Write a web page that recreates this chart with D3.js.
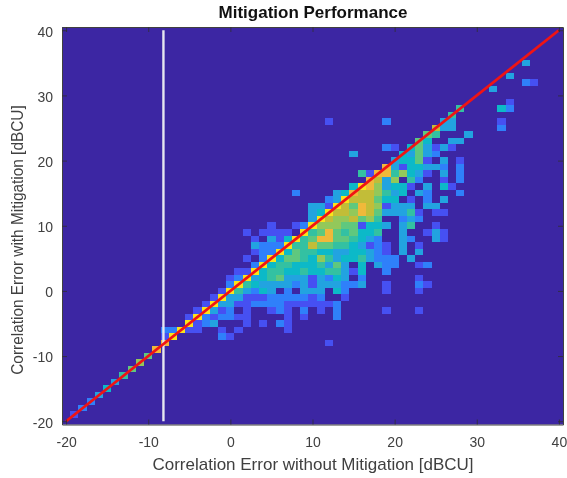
<!DOCTYPE html>
<html>
<head>
<meta charset="utf-8">
<script src="https://cdn.jsdelivr.net/npm/d3@7"></script>
<style>
  html, body { margin: 0; padding: 0; background: #fff; }
  text { font-family: "Liberation Sans", Arial, sans-serif; }
  svg { filter: blur(0.35px); }
</style>
</head>
<body>
<div id="chart"></div>
<script>
// histogram rows: row y value, first x value, then levels going right
const rowY = [35, 33, 32, 31, 29, 28, 27, 26, 25, 24, 23, 22, 21, 20, 19, 18, 17, 16, 15, 14, 13, 12, 11, 10,
  9, 8, 7, 6, 5, 4, 3, 2, 1, 0, -1, -2, -3, -4, -5, -6, -7, -8, -9, -10, -11, -12, -13, -14, -15, -16, -17, -18, -19];
const rowStart = [36, 34, 36, 32, 34, 28, 27, 12, 25, 24, 23, 19, 15, 20, 19, 16, 17, 15, 8, 12, 10, 10, 10, 5,
  2, 3, 3, 3, 2, 3, 1, 0, 0, -1, -2, -3, -4, -5, -5, -8, -8, -8, -9, -10, -11, -12, -13, -14, -15, -16, -17, -18, -19];
const rowLevels = [
  [3],
  [3],
  [2, 1],
  [3],
  [1],
  [5, 0, 0, 0, 0, 4, 2],
  [5],
  [1, 0, 0, 0, 0, 0, 0, 2, 0, 0, 0, 0, 0, 0, 3, 3, 0, 0, 0, 0, 0, 1],
  [8, 3, 3, 0, 0, 0, 0, 0, 2],
  [6, 5, 0, 0, 0, 3],
  [6, 4, 0, 0, 3, 3],
  [2, 1, 0, 4, 6, 3, 1, 3, 1],
  [3, 0, 0, 0, 0, 0, 4, 3, 6, 3, 2],
  [3, 4, 4, 6, 1, 0, 3, 0, 1],
  [9, 3, 1, 4, 4, 3, 3, 2, 0, 2],
  [5, 1, 9, 9, 5, 7, 4, 3, 1, 0, 3, 0, 2],
  [9, 8, 3, 7, 0, 5, 2, 0, 0, 1, 0, 2],
  [4, 10, 9, 7, 3, 4, 4, 1, 0, 3, 0, 4, 1],
  [2, 0, 0, 0, 0, 3, 4, 9, 8, 8, 7, 5, 3, 4, 0, 3, 2, 0, 0, 0, 2],
  [2, 3, 10, 8, 8, 8, 6, 4, 4, 0, 1, 0, 2, 0, 3],
  [3, 3, 1, 10, 8, 6, 9, 8, 7, 1, 3, 3, 3, 0, 3, 3],
  [3, 4, 10, 8, 8, 7, 9, 8, 6, 3, 3, 3, 5, 1, 0, 1, 1],
  [3, 10, 8, 7, 7, 8, 6, 7, 5, 0, 0, 2, 3, 2],
  [1, 0, 0, 1, 2, 10, 7, 7, 7, 6, 6, 1, 4, 4, 3, 0, 3, 5, 0, 0, 1],
  [1, 0, 1, 1, 1, 1, 0, 10, 5, 6, 9, 6, 5, 6, 4, 4, 5, 0, 0, 3, 0, 0, 1, 3, 1],
  [1, 0, 3, 1, 4, 10, 5, 6, 9, 9, 6, 6, 5, 4, 3, 2, 0, 0, 3, 2, 0, 0, 3, 1],
  [3, 2, 2, 2, 10, 5, 5, 8, 6, 6, 5, 5, 4, 3, 1, 2, 1, 0, 3, 0, 1],
  [1, 2, 2, 10, 4, 6, 5, 5, 4, 4, 3, 3, 4, 4, 3, 2, 1, 0, 3, 0, 3],
  [1, 0, 2, 10, 4, 6, 6, 5, 4, 7, 5, 3, 4, 4, 5, 3, 2, 2, 2, 0, 3],
  [2, 10, 4, 5, 5, 4, 4, 4, 5, 3, 6, 3, 0, 4, 0, 3, 2, 2, 0, 0, 1, 2],
  [1, 1, 10, 4, 5, 5, 4, 4, 5, 4, 4, 5, 5, 3, 1, 4, 0, 0, 2],
  [1, 2, 10, 3, 4, 5, 6, 3, 3, 3, 1, 3, 2, 4, 3, 0, 2, 0, 0, 0, 0, 0, 0, 1],
  [2, 10, 5, 4, 3, 3, 3, 3, 2, 3, 1, 3, 3, 3, 2, 2, 3, 0, 0, 1, 0, 0, 0, 2, 1],
  [1, 10, 5, 3, 2, 4, 3, 0, 2, 0, 3, 3, 3, 0, 4, 2, 0, 0, 0, 0, 1, 0, 0, 0, 1],
  [1, 10, 3, 3, 1, 1, 1, 2, 2, 2, 2, 2, 1, 2, 0, 0, 1],
  [1, 10, 3, 3, 1, 1, 2, 2, 2, 2, 1, 1, 1, 1, 1, 1, 2],
  [1, 10, 3, 1, 2, 0, 1, 0, 0, 1, 2, 1, 0, 2, 0, 1, 0, 2, 0, 0, 0, 0, 0, 1, 0, 0, 0, 1],
  [1, 10, 2, 1, 2, 2, 1, 1, 0, 0, 0, 0, 1, 0, 1, 0, 0, 0, 2],
  [10, 1, 2, 3, 0, 0, 0, 1, 0, 1, 0, 2, 1],
  [2, 2, 10, 1, 1, 0, 0, 1, 0, 1, 0, 0, 0, 0, 0, 1],
  [1, 10, 0, 0, 0, 0, 0, 2, 1],
  [9, 0, 0, 0, 0, 0, 0, 0, 0, 0, 0, 0, 0, 0, 0, 0, 0, 0, 0, 0, 1],
  [9], [6], [7], [6], [5], [3], [4], [3], [2], [2], [1]
];

const tickValues = [-20, -10, 0, 10, 20, 30, 40];
const colourStops = ['#3c26a3', '#4650f2', '#2f80fa', '#22a3e0', '#0cb9c8', '#33c1a2', '#5fc87e', '#93c85a', '#c2bd38', '#f0b93a', '#f9e51c'];
const cutoffX = [-8.15, -8.15];
const cutoffY = [-20, 40];
const unityLine = [-20, 40];

const width = 567, height = 478;
const box = { left: 62, right: 563, top: 27, bottom: 424.5 };

const x = d3.scaleLinear().domain([-20.5, 40.5]).range([box.left, box.right]);
const y = d3.scaleLinear().domain([-20.5, 40.5]).range([box.bottom, box.top]);
const colour = d3.scaleLinear().domain(d3.range(colourStops.length)).range(colourStops);

const svg = d3.select('#chart').append('svg')
  .attr('width', width)
  .attr('height', height)
  .style('display', 'block');

svg.append('rect')
  .attr('x', box.left)
  .attr('y', box.top)
  .attr('width', box.right - box.left)
  .attr('height', box.bottom - box.top)
  .attr('fill', colourStops[0]);

// flatten the rows into cells, zeros are just background
const cells = [];
rowY.forEach((yVal, i) => {
  rowLevels[i].forEach((level, j) => {
    if (level > 0) cells.push({ x: rowStart[i] + j, y: yVal, level: level });
  });
});

const cellW = x(1) - x(0);
const cellH = y(0) - y(1);
svg.append('g')
  .attr('shape-rendering', 'crispEdges')
  .selectAll('rect')
  .data(cells)
  .enter()
  .append('rect')
  .attr('x', d => x(d.x - 0.5))
  .attr('y', d => y(d.y + 0.5))
  .attr('width', cellW)
  .attr('height', cellH)
  .attr('fill', d => colour(d.level));

const line = d3.line().x(d => x(d[0])).y(d => y(d[1]));

svg.append('path')
  .attr('d', line(cutoffX.map((v, i) => [v, cutoffY[i]])))
  .attr('fill', 'none')
  .attr('stroke', '#e6e6f0')
  .attr('stroke-width', 2.4);

svg.append('path')
  .attr('d', line(unityLine.map(v => [v, v])))
  .attr('fill', 'none')
  .attr('stroke', '#f01414')
  .attr('stroke-width', 2.8);

// matlab style box, ticks point inwards on all four sides
function styleAxis(g, showLabels) {
  g.select('.domain').attr('stroke', '#404040').attr('stroke-width', 1);
  g.selectAll('.tick line').attr('stroke', '#303030').attr('stroke-width', 0.8);
  g.selectAll('.tick text')
    .attr('fill', '#404040')
    .style('font-size', '14px')
    .style('font-family', '"Liberation Sans", Arial, sans-serif')
    .style('display', showLabels ? null : 'none');
}

const plainTick = d => String(d);

svg.append('g')
  .attr('transform', `translate(0,${box.bottom})`)
  .call(d3.axisBottom(x).tickValues(tickValues).tickFormat(plainTick).tickSizeInner(-5).tickSizeOuter(0).tickPadding(13))
  .call(styleAxis, true);
svg.append('g')
  .attr('transform', `translate(${box.left},0)`)
  .call(d3.axisLeft(y).tickValues(tickValues).tickFormat(plainTick).tickSizeInner(-5).tickSizeOuter(0).tickPadding(9))
  .call(styleAxis, true)
  .call(g => g.selectAll('.tick text').attr('dy', '0.42em'));
svg.append('g')
  .attr('transform', `translate(0,${box.top})`)
  .call(d3.axisTop(x).tickValues(tickValues).tickSizeInner(-5).tickSizeOuter(0))
  .call(styleAxis, false);
svg.append('g')
  .attr('transform', `translate(${box.right},0)`)
  .call(d3.axisRight(y).tickValues(tickValues).tickSizeInner(-5).tickSizeOuter(0))
  .call(styleAxis, false);

// the source picture was stretched sideways, so these glyphs are a bit wider than tall
svg.append('text')
  .attr('transform', 'translate(313,17.5) scale(1.05,1)')
  .attr('text-anchor', 'middle')
  .attr('font-weight', 'bold')
  .attr('font-size', 16.2)
  .attr('fill', '#111')
  .text('Mitigation Performance');

svg.append('text')
  .attr('transform', 'translate(313,470) scale(1.05,1)')
  .attr('text-anchor', 'middle')
  .attr('font-size', 16.2)
  .attr('fill', '#404040')
  .text('Correlation Error without Mitigation [dBCU]');

svg.append('text')
  .attr('transform', 'translate(23,240) scale(1.12,1) rotate(-90)')
  .attr('text-anchor', 'middle')
  .attr('font-size', 15.4)
  .attr('fill', '#404040')
  .text('Correlation Error with Mitigation [dBCU]');
</script>
</body>
</html>
